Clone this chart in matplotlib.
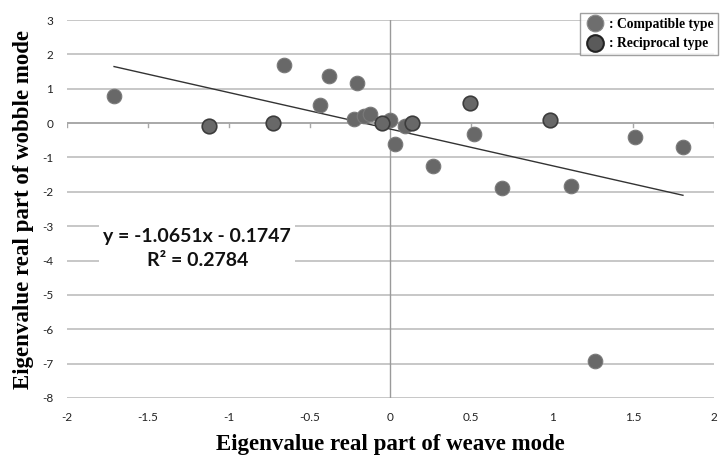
import numpy as np
import matplotlib
matplotlib.use('Agg')
import matplotlib.pyplot as plt
from matplotlib.lines import Line2D

plt.rcParams['axes.unicode_minus'] = False

# compatible type points
comp_x = [-1.709, -0.656, -0.433, -0.378, -0.204, -0.223, -0.161, -0.124, 0.0, 0.03, 0.087,
          0.26, 0.514, 0.687, 1.114, 1.511, 1.808, 1.263]
comp_y = [0.78, 1.68, 0.52, 1.36, 1.16, 0.12, 0.20, 0.26, 0.09, -0.61, -0.09,
          -1.24, -0.32, -1.88, -1.82, -0.40, -0.69, -6.92]
# reciprocal type points
rec_x = [-1.121, -0.724, -0.05, 0.136, 0.489, 0.985]
rec_y = [-0.09, 0.0, 0.0, 0.0, 0.58, 0.09]

slope, intercept, r2 = -1.0651, -0.1747, 0.2784
xticks = [-2, -1.5, -1, -0.5, 0, 0.5, 1, 1.5, 2]
yticks = list(range(-8, 4))

fig = plt.figure(figsize=(7.21, 4.59), dpi=100)
ax = fig.add_axes([0.0929, 0.1329, 0.8974, 0.8235])
ax.set_xlim(-2, 2)
ax.set_ylim(-8, 3)
for s in ax.spines.values():
    s.set_visible(False)

for yv in yticks:
    if yv != 0:
        ax.axhline(yv, color='#bdbdbd', lw=1.2, zorder=0)
ax.axhline(0, color='#a8a8a8', lw=1.4, zorder=0)
ax.axvline(0, color='#9a9a9a', lw=1.0, zorder=0)
for xv in xticks:
    ax.plot([xv, xv], [0, -0.12], color='#a8a8a8', lw=1.0, zorder=0)

ax.set_xticks(xticks)
ax.set_xticklabels(['-2', '-1.5', '-1', '-0.5', '0', '0.5', '1', '1.5', '2'])
ax.set_yticks(yticks)
ax.tick_params(length=0, labelsize=8.5, colors='#222222', pad=10)
for lab in ax.get_xticklabels() + ax.get_yticklabels():
    lab.set_family('Lato')

# trendline over data range
all_x = np.array(comp_x + rec_x)
tx = np.array([all_x.min(), all_x.max()])
ax.plot(tx, slope * tx + intercept, color='#333333', lw=1.0, zorder=2)

ax.scatter(comp_x, comp_y, s=110, color='#686868', edgecolors='#7a7a7a', linewidths=0.8, zorder=3)
ax.scatter(rec_x, rec_y, s=110, color='#686868', edgecolors='#3c3c3c', linewidths=1.2, zorder=3)

eq = 'y = {:.4f}x - {:.4f}\nR² = {:.4f}'.format(slope, -intercept, r2)
ax.text(-1.195, -3.65, eq, ha='center', va='center',
        multialignment='center', fontsize=14, fontweight='bold', family='Lato',
        linespacing=1.45, color='#111111',
        bbox=dict(facecolor='white', edgecolor='none', pad=3), zorder=4)

ax.set_xlabel('Eigenvalue real part of weave mode', fontsize=16.5, fontweight='bold',
              family='Liberation Serif', labelpad=8)
ax.set_ylabel('Eigenvalue real part of wobble mode', fontsize=16.5, fontweight='bold',
              family='Liberation Serif', labelpad=6)

handles = [
    Line2D([], [], ls='none', marker='o', ms=12, mfc='#6e6e6e', mec='#8a8a8a', mew=0.8),
    Line2D([], [], ls='none', marker='o', ms=12, mfc='#5a5a5a', mec='#222222', mew=1.5),
]
leg = fig.legend(handles, [': Compatible type', ': Reciprocal type'], loc='upper left',
                 bbox_to_anchor=(573 / 721, 1 - 6 / 459), frameon=True, fancybox=False,
                 edgecolor='#888888', prop={'family': 'Liberation Serif', 'weight': 'bold', 'size': 9.8},
                 handletextpad=0.2, borderpad=0.35, labelspacing=0.5, handlelength=1.6)
leg.get_frame().set_linewidth(1.0)

fig.savefig('out.png', dpi=100)
